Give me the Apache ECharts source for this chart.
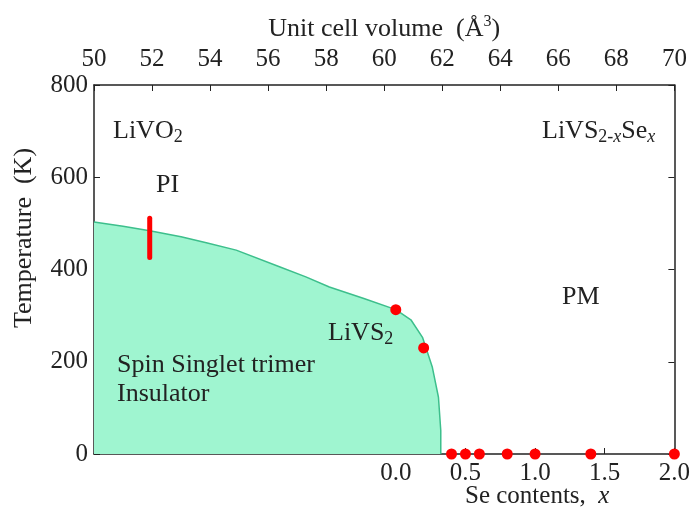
<!DOCTYPE html>
<html>
<head>
<meta charset="utf-8">
<script src="https://cdn.jsdelivr.net/npm/echarts@6/dist/echarts.min.js"></script>
<style>
  html, body { margin: 0; padding: 0; background: #fff; }
  #chart { width: 693px; height: 508px; }
</style>
</head>
<body>
<div id="chart"></div>
<script>
// phase boundary of the singlet trimer insulator, [volume (A^3), T (K)]
const boundary = [
  [50.0, 503], [51.0, 494], [51.92, 484], [53.0, 471], [53.87, 458], [54.9, 442],
  [56.39, 406], [57.3, 384], [58.11, 362], [59.3, 337], [60.4, 313], [60.92, 291],
  [61.32, 253], [61.66, 188], [61.87, 123], [61.95, 51], [61.95, 0]
]
// LiVO2 transition bar at ~52 A^3
const livo2Bar = [[51.92, 426], [51.92, 511]]
// LiVS2-xSex measured points, [x, T]
const seTransitions = [[0.0, 313], [0.2, 230]]
const seNoTransition = [0.4, 0.5, 0.6, 0.8, 1.0, 1.4, 2.0]

const volumeTicks = [50, 70, 2]
const tempTicks = [0, 800, 200]
const seTicks = [0, 0.5, 1.0, 1.5, 2.0]
// x = 0 sits at 60.4 A^3, x = 2 at 70 A^3
const seMin = (50 - 60.4) / 4.8

const serif = '"Liberation Serif", "DejaVu Serif", serif'
const ink = '#222'
const fs = 25
const fsText = 26

const chart = echarts.init(document.getElementById('chart'))

const sub = { fontFamily: serif, fontSize: 18, fill: ink, padding: [12, 0, 0, 0] }
const subI = Object.assign({}, sub, { fontStyle: 'italic' })
const big = { fontFamily: serif, fontSize: fsText, fill: ink }

function label(x, y, text, rich) {
  return {
    type: 'text', x: x, y: y, z: 100,
    style: { text: text, rich: rich, fontFamily: serif, fontSize: fsText, fill: ink, verticalAlign: 'middle' }
  }
}

chart.setOption({
  animation: false,
  grid: { left: 94, right: 17, top: 85, bottom: 54 },
  xAxis: [
    {
      type: 'value',
      position: 'top',
      min: volumeTicks[0],
      max: volumeTicks[1],
      interval: volumeTicks[2],
      name: '{a|Unit cell volume  (Å}{s|3}{a|)}',
      nameLocation: 'middle',
      nameGap: 37,
      nameTextStyle: {
        rich: {
          a: { fontFamily: serif, fontSize: 26, color: ink },
          s: { fontFamily: serif, fontSize: 16, color: ink, padding: [0, 0, 14, 0] }
        }
      },
      axisLine: { onZero: false, lineStyle: { color: ink, width: 1.5 } },
      axisTick: { inside: true, length: 6, lineStyle: { color: ink } },
      axisLabel: { fontFamily: serif, fontSize: fs, color: ink, margin: 13 },
      splitLine: { show: false }
    },
    {
      type: 'value',
      position: 'bottom',
      min: seMin,
      max: 2,
      axisLine: { onZero: false, lineStyle: { color: ink, width: 1.5 } },
      axisTick: { inside: true, length: 6, customValues: seTicks, lineStyle: { color: ink } },
      axisLabel: {
        fontFamily: serif, fontSize: fs, color: ink, margin: 7,
        customValues: seTicks,
        formatter: v => v.toFixed(1)
      },
      splitLine: { show: false }
    }
  ],
  yAxis: [
    {
      type: 'value',
      position: 'left',
      min: tempTicks[0],
      max: tempTicks[1],
      interval: tempTicks[2],
      axisLine: { show: true, onZero: false, lineStyle: { color: ink, width: 1.5 } },
      axisTick: { show: true, inside: true, length: 6, lineStyle: { color: ink } },
      axisLabel: { fontFamily: serif, fontSize: fs, color: ink, margin: 6 },
      splitLine: { show: false }
    },
    {
      type: 'value',
      position: 'right',
      min: tempTicks[0],
      max: tempTicks[1],
      interval: tempTicks[2],
      axisLine: { show: true, onZero: false, lineStyle: { color: ink, width: 1.5 } },
      axisTick: { show: true, inside: true, length: 6, lineStyle: { color: ink } },
      axisLabel: { show: false },
      splitLine: { show: false }
    }
  ],
  graphic: [
    {
      type: 'text', x: 24, y: 238, rotation: Math.PI / 2, z: 100,
      style: {
        text: 'Temperature  (K)', fontFamily: serif, fontSize: 26, fill: ink,
        align: 'center', verticalAlign: 'middle'
      }
    },
    label(113, 131, '{a|LiVO}{s|2}', { a: big, s: sub }),
    label(156, 185, 'PI'),
    label(542, 131, '{a|LiVS}{s|2-}{i|x}{a|Se}{i|x}', { a: big, s: sub, i: subI }),
    label(562, 297, 'PM'),
    label(328, 333, '{a|LiVS}{s|2}', { a: big, s: sub }),
    label(117, 365, 'Spin Singlet trimer'),
    label(117, 394, 'Insulator'),
    label(465, 496, '{a|Se contents,  }{i|x}', {
      a: { fontFamily: serif, fontSize: fs, fill: ink },
      i: { fontFamily: serif, fontSize: fs, fontStyle: 'italic', fill: ink }
    })
  ],
  series: [
    {
      type: 'line',
      xAxisIndex: 0,
      yAxisIndex: 0,
      data: boundary,
      symbol: 'none',
      smooth: false,
      lineStyle: { color: '#3dbf8c', width: 1.5 },
      areaStyle: { color: '#9ff5d0', opacity: 1 },
      z: 1
    },
    {
      type: 'line',
      xAxisIndex: 0,
      yAxisIndex: 0,
      data: livo2Bar,
      symbol: 'none',
      lineStyle: { color: '#ff0000', width: 5, cap: 'round' },
      z: 3
    },
    {
      type: 'scatter',
      xAxisIndex: 1,
      yAxisIndex: 0,
      data: seTransitions.concat(seNoTransition.map(x => [x, 0])),
      symbolSize: 11,
      itemStyle: { color: '#ff0000', opacity: 1 },
      clip: false,
      z: 4
    }
  ]
})
</script>
</body>
</html>
